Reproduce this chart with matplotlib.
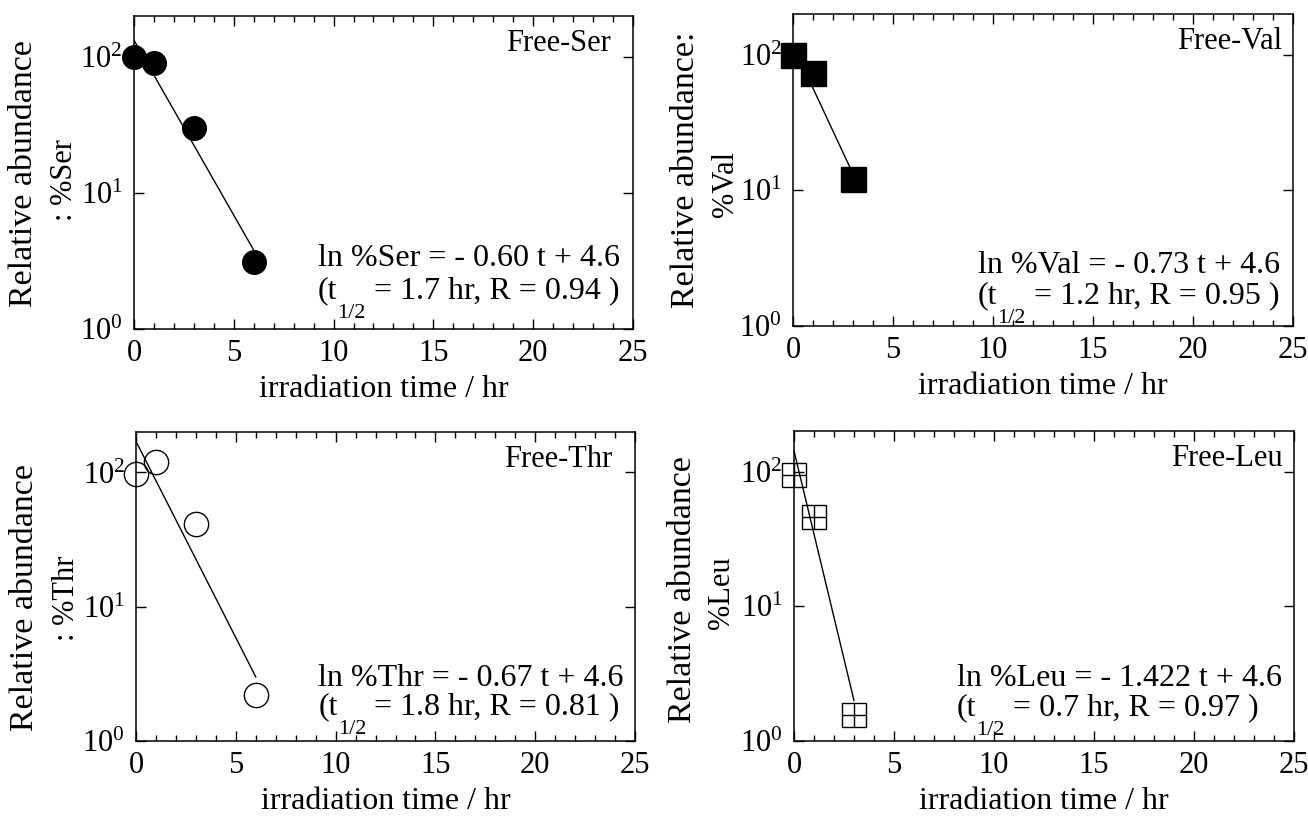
import matplotlib
matplotlib.use("Agg")
import matplotlib.pyplot as plt
from matplotlib.ticker import LogLocator, MultipleLocator, NullLocator

plt.rcParams["font.family"] = "Liberation Serif"
plt.rcParams["mathtext.fontset"] = "custom"
plt.rcParams["mathtext.rm"] = "Liberation Serif"
plt.rcParams["mathtext.it"] = "Liberation Serif:italic"

# irradiation time (hr) vs relative abundance (%)
ser_t = [0, 1, 3, 6]
ser_pct = [100, 91, 30, 3.1]
val_t = [0, 1, 3]
val_pct = [100, 74, 12.1]
thr_t = [0, 1, 3, 6]
thr_pct = [97, 119, 41, 2.2]
leu_t = [0, 1, 3]
leu_pct = [95, 46, 1.57]

# fitted lines, end points as drawn
ser_fit_t, ser_fit = [0, 6], [133, 3.8]
val_fit_t, val_fit = [0, 3], [117, 13.2]
thr_fit_t, thr_fit = [0, 6], [170, 3.0]
leu_fit_t, leu_fit = [0, 3], [143, 2.0]

names = ["Free-Ser", "Free-Val", "Free-Thr", "Free-Leu"]
eq_main = ["ln %Ser = - 0.60 t + 4.6", "ln %Val = - 0.73 t + 4.6",
           "ln %Thr = - 0.67 t + 4.6", "ln %Leu = - 1.422 t + 4.6"]
eq_rest = [" = 1.7 hr, R = 0.94 )", " = 1.2 hr, R = 0.95 )",
           " = 1.8 hr, R = 0.81 )", " = 0.7 hr, R = 0.97 )"]
ylab1 = ["Relative abundance", "Relative abundance:", "Relative abundance", "Relative abundance"]
ylab2 = [": %Ser", "%Val", ": %Thr", "%Leu"]

W, H = 1308, 816
fig = plt.figure(figsize=(W / 100, H / 100), dpi=100)

rects = [[0.1024, 0.5968, 0.3815, 0.3836],
         [0.6063, 0.6005, 0.3823, 0.3824],
         [0.1040, 0.0919, 0.3815, 0.3787],
         [0.6070, 0.0919, 0.3823, 0.3799]]
name_x = [0.956, 0.978, 0.954, 0.978]
eq_pos = [(0.369, 0.201, 0.099), (0.370, 0.170, 0.074),
          (0.365, 0.178, 0.087), (0.326, 0.177, 0.084)]
ylab_px = [((24, 174), (64, 180)), ((686, 170), (725, 184)),
           ((25, 598), (66, 598)), ((683, 590), (721, 593))]

data = [(ser_t, ser_pct, ser_fit_t, ser_fit),
        (val_t, val_pct, val_fit_t, val_fit),
        (thr_t, thr_pct, thr_fit_t, thr_fit),
        (leu_t, leu_pct, leu_fit_t, leu_fit)]

FS = 23

for i, (t, pct, ft, fv) in enumerate(data):
    ax = fig.add_axes(rects[i])
    ax.plot(ft, fv, color="black", lw=1.0, zorder=2)
    if i == 0:
        ax.plot(t, pct, "o", ms=17, mfc="black", mec="black", clip_on=False, zorder=3)
    elif i == 1:
        ax.plot(t, pct, "s", ms=18, mfc="black", mec="black", clip_on=False, zorder=3)
    elif i == 2:
        ax.plot(t, pct, "o", ms=17.5, mfc="none", mec="black", mew=1.0, clip_on=False, zorder=3)
    else:
        ax.plot(t, pct, "s", ms=17, mfc="none", mec="black", mew=1.0, clip_on=False, zorder=3)
        ax.plot(t, pct, "+", ms=17, mec="black", mew=1.0, clip_on=False, zorder=3)

    ax.set_yscale("log")
    ax.set_ylim(1, 200)
    ax.set_xlim(0, 25)
    ax.xaxis.set_major_locator(MultipleLocator(5))
    ax.xaxis.set_minor_locator(MultipleLocator(1))
    ax.yaxis.set_major_locator(LogLocator(base=10, numticks=5))
    ax.yaxis.set_minor_locator(NullLocator())
    ax.tick_params(which="both", direction="in", top=True, right=True, labelsize=22, width=1.0)
    ax.tick_params(which="major", length=7)
    ax.tick_params(which="minor", length=4)
    ax.tick_params(axis="x", pad=7)
    ax.tick_params(axis="y", pad=8)
    for s in ax.spines.values():
        s.set_linewidth(1.1)
    ax.set_xlabel("irradiation time / hr", fontsize=23, labelpad=5)

    ax.text(name_x[i], 0.912, names[i], transform=ax.transAxes, ha="right", va="center", fontsize=22)
    ex, ey1, ey2 = eq_pos[i]
    ax.text(ex, ey1, eq_main[i], transform=ax.transAxes, ha="left", va="baseline", fontsize=FS)
    # second line: (t with a low 1/2 subscript, then the rest on the same baseline
    t1 = ax.text(ex, ey2, "(t", transform=ax.transAxes, ha="left", va="baseline", fontsize=FS)
    t2 = ax.annotate("1/2", xy=(1, 0), xycoords=t1, xytext=(0, 1), textcoords="offset points",
                     ha="left", va="top", fontsize=16)
    ax.annotate(eq_rest[i], xy=(1, 0), xycoords=(t2, t1), ha="left", va="bottom", fontsize=FS)

    (x1, y1), (x2, y2) = ylab_px[i]
    fig.text(x1 / W, 1 - y1 / H, ylab1[i], rotation=90, ha="center", va="center", fontsize=24.5)
    fig.text(x2 / W, 1 - y2 / H, ylab2[i], rotation=90, ha="center", va="center", fontsize=22)

fig.savefig("out.png", dpi=100)
